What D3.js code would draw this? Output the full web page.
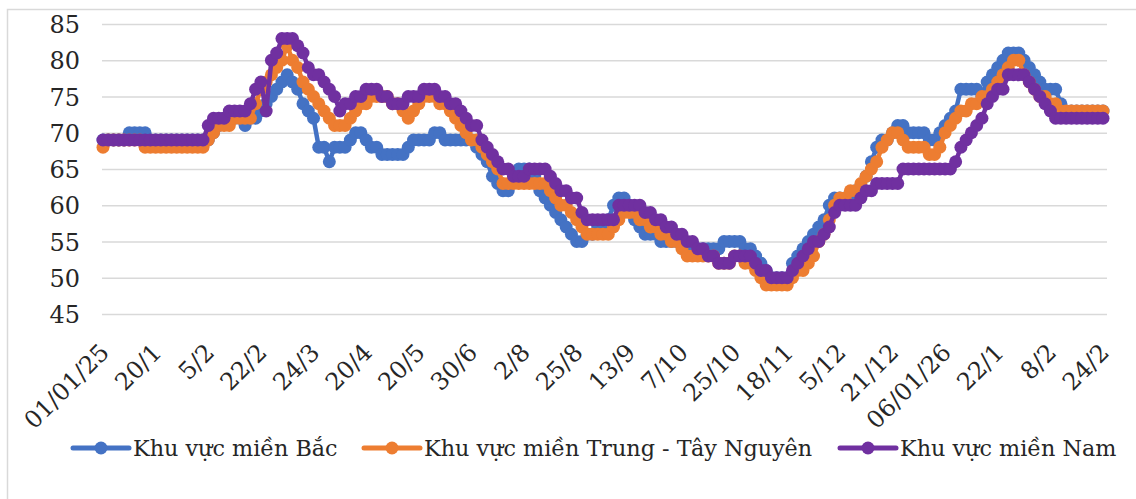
<!DOCTYPE html>
<html><head><meta charset="utf-8">
<script src="https://cdn.jsdelivr.net/npm/d3@7"></script>
<style>
body{margin:0;background:#fff}
svg{display:block}
text{font-family:"DejaVu Serif",serif;fill:#262626}
</style>
</head><body>
<svg id="c" width="1136" height="499"></svg>
<script>
// ---- data ----
const tickLabels = ["01/01/25","20/1","5/2","22/2","24/3","20/4","20/5","30/6","2/8","25/8",
  "13/9","7/10","25/10","18/11","5/12","21/12","06/01/26","22/1","8/2","24/2"];
const tickEvery = 10;
const seriesNames = ["Khu vực miền Bắc","Khu vực miền Trung - Tây Nguyên","Khu vực miền Nam"];
const yTicks = [45,50,55,60,65,70,75,80,85];

const bac = [
 69,69,69,69,69,70,70,70,70,69,
 69,69,69,69,69,69,69,69,69,69,
 69,70,71,72,72,72,72,71,72,72,
 73,74,75,76,77,78,77,76,74,73,
 72,68,68,66,68,68,68,69,70,70,
 69,68,68,67,67,67,67,67,68,69,
 69,69,69,70,70,69,69,69,69,69,
 69,68,67,66,64,63,62,62,64,65,
 65,65,64,62,61,60,59,58,57,56,
 55,55,56,56,57,57,58,60,61,61,
 60,58,57,56,56,56,55,55,55,55,
 55,54,54,54,54,54,54,54,55,55,
 55,55,54,54,53,52,51,50,50,50,
 50,52,53,54,55,56,57,58,60,61,
 61,61,61,62,62,64,66,68,69,69,
 70,71,71,70,70,70,70,69,69,70,
 71,72,73,76,76,76,76,75,77,78,
 79,80,81,81,81,80,79,78,77,76,
 76,76,74,73,73,73,73,73,73,73,73
];
const trung = [
 68,69,69,69,69,69,69,69,68,68,
 68,68,68,68,68,68,68,68,68,68,
 69,70,71,71,71,72,72,72,72,74,
 76,77,78,79,80,82,80,79,77,76,
 75,74,73,72,71,71,71,72,73,74,
 74,75,75,75,75,74,74,73,72,73,
 74,75,75,75,74,74,73,72,71,70,
 69,69,68,67,66,65,63,63,63,63,
 63,63,63,63,63,62,61,60,60,59,
 58,57,56,56,56,56,56,57,58,59,
 59,59,58,58,57,57,56,56,55,55,
 54,53,53,53,53,53,53,52,52,52,
 53,53,52,52,51,50,49,49,49,49,
 49,50,51,51,52,53,55,56,58,60,
 61,61,62,62,63,64,65,66,68,69,
 70,70,69,68,68,68,68,67,67,68,
 70,71,72,73,73,74,74,75,75,76,
 77,78,79,80,80,78,77,76,75,75,
 74,74,73,73,73,73,73,73,73,73,73
];
const nam = [
 69,69,69,69,69,69,69,69,69,69,
 69,69,69,69,69,69,69,69,69,69,
 71,72,72,72,73,73,73,73,74,76,
 77,73,80,81,83,83,83,82,81,79,
 78,78,77,76,75,73,74,74,75,75,
 76,76,76,75,75,74,74,74,75,75,
 75,76,76,76,75,75,74,74,73,72,
 71,71,69,68,67,66,65,65,64,64,
 64,65,65,65,65,64,63,62,62,61,
 61,59,58,58,58,58,58,58,60,60,
 60,60,60,59,59,58,58,57,57,56,
 56,55,55,54,54,53,53,52,52,52,
 53,53,53,53,52,51,51,50,50,50,
 50,51,52,53,54,55,55,56,57,59,
 60,60,60,60,61,62,62,63,63,63,
 63,63,65,65,65,65,65,65,65,65,
 65,65,66,68,69,70,71,72,74,75,
 76,76,78,78,78,78,77,76,75,74,
 73,72,72,72,72,72,72,72,72,72,72
];
const series = [bac, trung, nam];
const colors = ["#4472C4","#ED7D31","#7030A0"];

// ---- layout ----
const svg = d3.select("#c");
const FS = 24;
svg.append("rect").attr("x",7.5).attr("y",9.5).attr("width",1160).attr("height",520)
  .attr("fill","none").attr("stroke","#d9d9d9").attr("stroke-width",1.5);

const x = d3.scaleLinear().domain([0, bac.length-1]).range([103,1103]);
const y = d3.scaleLinear().domain([45,85]).range([314,24]);

// y axis + gridlines
const gy = svg.append("g").attr("transform","translate(102,0)")
  .call(d3.axisLeft(y).tickValues(yTicks).tickSize(-1005).tickPadding(22).tickFormat(d3.format("d")));
gy.select(".domain").remove();
gy.selectAll(".tick line").attr("stroke","#d9d9d9").attr("stroke-width",1.5);
gy.selectAll(".tick text").attr("font-size",FS).attr("font-family","DejaVu Serif").attr("fill","#262626").attr("dy","0.36em");

// x axis
const tickVals = tickLabels.map((d,i)=>i*tickEvery);
const gx = svg.append("g").attr("transform","translate(0,314)")
  .call(d3.axisBottom(x).tickValues(tickVals).tickSize(0).tickFormat((d,i)=>tickLabels[i]));
gx.select(".domain").remove();
gx.selectAll(".tick text")
  .attr("font-size",FS).attr("font-family","DejaVu Serif").attr("fill","#262626")
  .attr("x",0).attr("y",0).attr("dy",0)
  .attr("text-anchor","end")
  .attr("transform","translate(7,40) rotate(-45)");

// series
const line = d3.line().x((d,i)=>x(i)).y(d=>y(d));
series.forEach((s,k)=>{
  const g = svg.append("g");
  g.append("path").datum(s).attr("d",line).attr("fill","none")
    .attr("stroke",colors[k]).attr("stroke-width",4.5).attr("stroke-linejoin","round");
  g.selectAll("circle").data(s).join("circle")
    .attr("cx",(d,i)=>x(i)).attr("cy",d=>y(d)).attr("r",6.5).attr("fill",colors[k]);
});

// legend
const legX = [73, 364, 840];
const legY = 448;
seriesNames.forEach((n,k)=>{
  const g = svg.append("g").attr("transform",`translate(${legX[k]},${legY})`);
  g.append("line").attr("x1",0).attr("x2",56).attr("y1",0).attr("y2",0)
    .attr("stroke",colors[k]).attr("stroke-width",5).attr("stroke-linecap","round");
  g.append("circle").attr("cx",28).attr("cy",0).attr("r",6.5).attr("fill",colors[k]);
  g.append("text").attr("x",60).attr("y",0).attr("dy","0.36em")
    .attr("font-size",22.3).text(n);
});
</script>
</body></html>
